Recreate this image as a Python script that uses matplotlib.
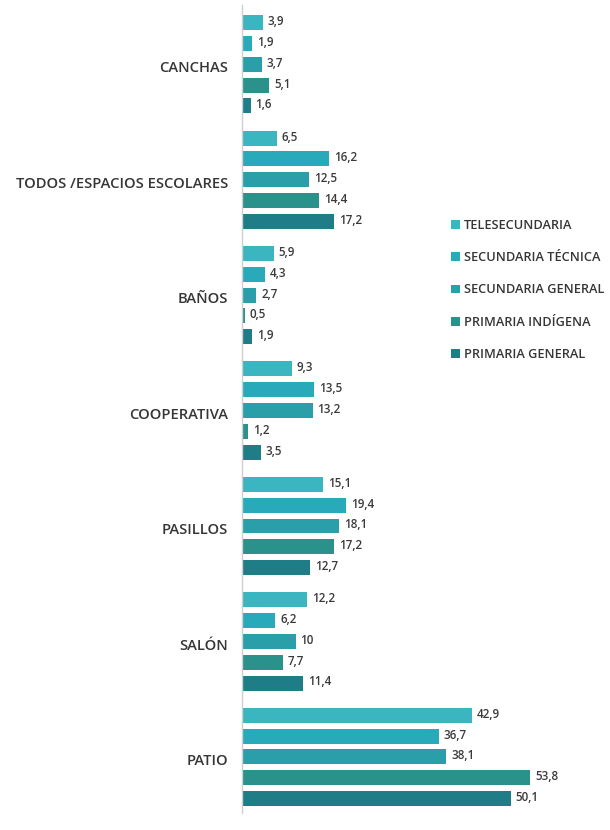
import matplotlib
matplotlib.use("Agg")
import matplotlib.pyplot as plt
from matplotlib.patches import Patch

plt.rcParams['font.family'] = ['Open Sans', 'DejaVu Sans']

categories = ["CANCHAS", "TODOS /ESPACIOS ESCOLARES", "BAÑOS", "COOPERATIVA",
              "PASILLOS", "SALÓN", "PATIO"]
series_names = ["TELESECUNDARIA", "SECUNDARIA TÉCNICA", "SECUNDARIA GENERAL",
                "PRIMARIA INDÍGENA", "PRIMARIA GENERAL"]
telesecundaria = [3.9, 6.5, 5.9, 9.3, 15.1, 12.2, 42.9]
secundaria_tecnica = [1.9, 16.2, 4.3, 13.5, 19.4, 6.2, 36.7]
secundaria_general = [3.7, 12.5, 2.7, 13.2, 18.1, 10.0, 38.1]
primaria_indigena = [5.1, 14.4, 0.5, 1.2, 17.2, 7.7, 53.8]
primaria_general = [1.6, 17.2, 1.9, 3.5, 12.7, 11.4, 50.1]
series = [telesecundaria, secundaria_tecnica, secundaria_general,
          primaria_indigena, primaria_general]
colors = ["#3bb6c0", "#29aabb", "#2a9fa9", "#2a928b", "#1e7d87"]

def fmt(v):
    s = f"{v:.1f}".replace(".", ",")
    return s[:-2] if s.endswith(",0") else s

fig = plt.figure(figsize=(6.1, 8.3), dpi=100)
ax = fig.add_axes([242 / 610, 1 - 813 / 830, 1 - 242 / 610, 808 / 830])

group_gap = 5.55
bar_h = 0.72
for gi, cat in enumerate(categories):
    base = gi * group_gap
    for si, vals in enumerate(series):
        y = base + si
        v = vals[gi]
        ax.barh(y, v, height=bar_h, color=colors[si], edgecolor="none")
        ax.text(v + 0.9, y - 0.05, fmt(v), va="center", ha="left",
                fontsize=8.4, color="#3a3a3a", fontweight="semibold")
    ax.text(-2.6, base + 2.2, cat, va="center", ha="right", fontsize=10.6,
            color="#363636", fontweight="semibold")

ax.set_xlim(0, 368 / 5.36)
ax.set_ylim(38.0, -0.85)
ax.set_xticks([])
ax.set_yticks([])
for s in ["top", "right", "bottom"]:
    ax.spines[s].set_visible(False)
ax.spines["left"].set_color("#cfcfcf")
ax.spines["left"].set_linewidth(1.0)

handles = [Patch(facecolor=c, edgecolor="none") for c in colors]
leg = fig.legend(handles, series_names, loc="upper left",
                 bbox_to_anchor=(446 / 610, 1 - 214 / 830), frameon=False,
                 prop={"size": 9.2, "weight": "semibold"},
                 handlelength=0.7, handleheight=0.7,
                 handletextpad=0.3, labelspacing=1.5, labelcolor="#363636",
                 borderaxespad=0, borderpad=0.4)

fig.savefig("out.png", dpi=100, facecolor="white")
